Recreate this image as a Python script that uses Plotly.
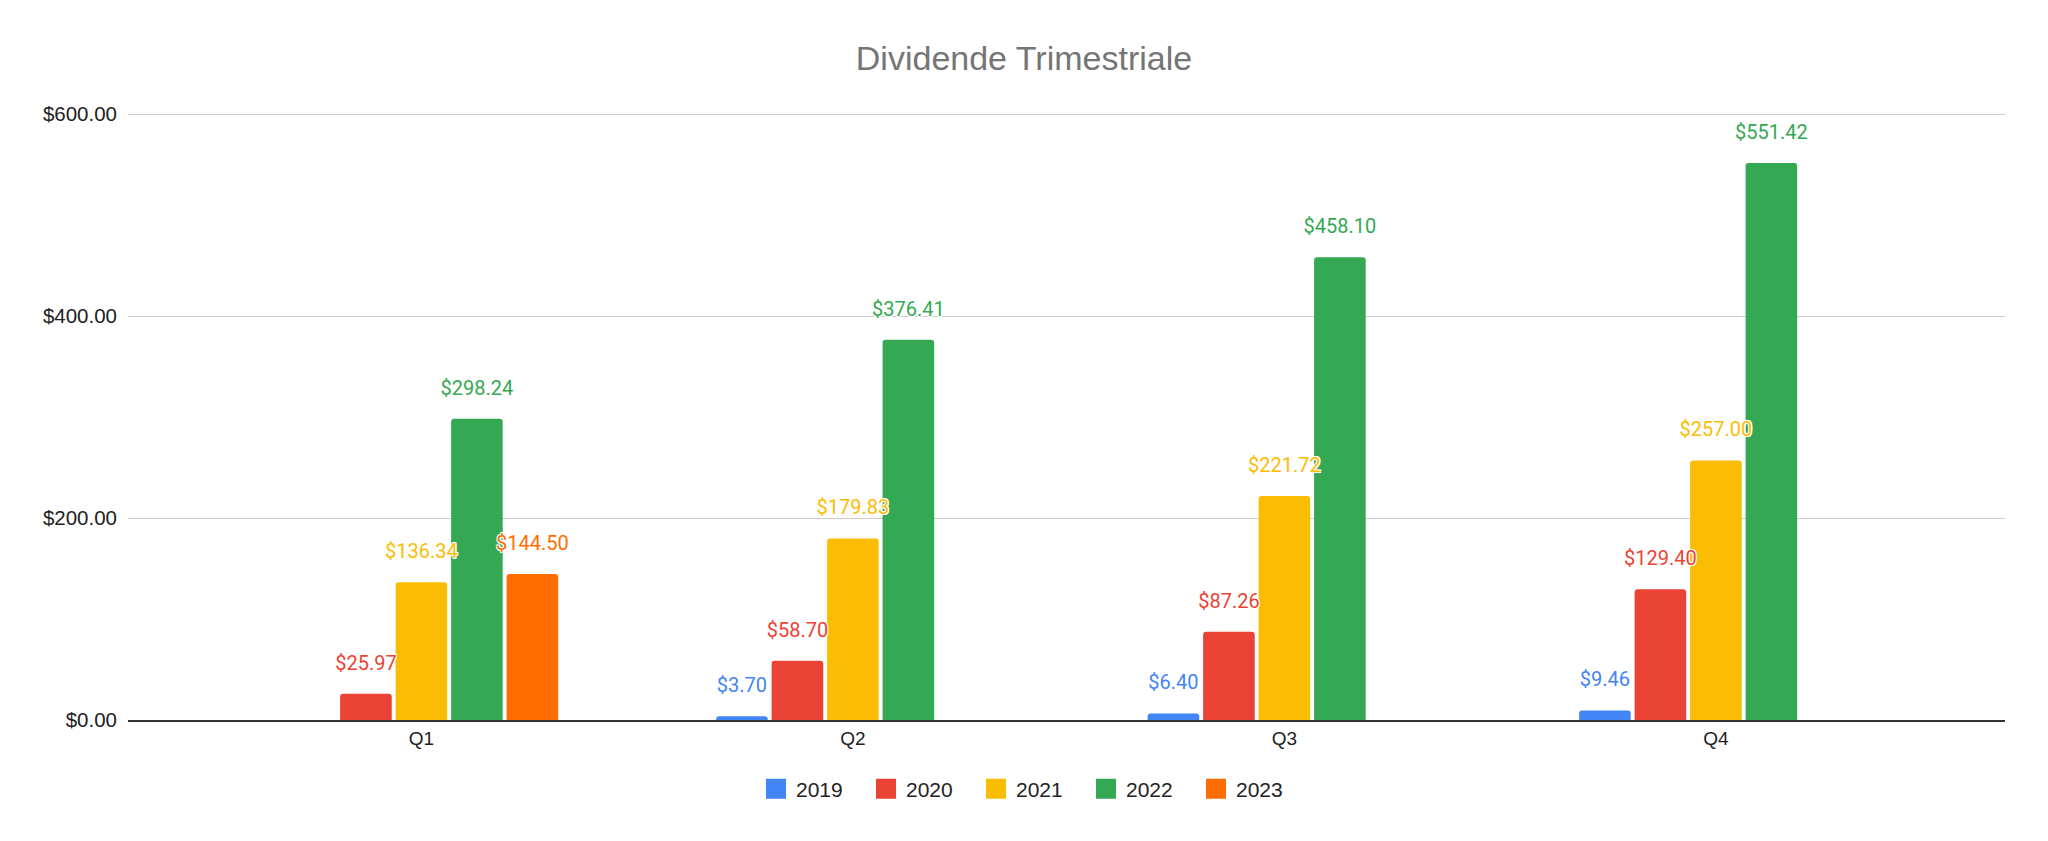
import plotly.graph_objects as go

# dati
quarters = ['Q1', 'Q2', 'Q3', 'Q4']
years = ['2019', '2020', '2021', '2022', '2023']
div_2019 = [None, 3.70, 6.40, 9.46]
div_2020 = [25.97, 58.70, 87.26, 129.40]
div_2021 = [136.34, 179.83, 221.72, 257.00]
div_2022 = [298.24, 376.41, 458.10, 551.42]
div_2023 = [144.50, None, None, None]
y_ticks = [0, 200, 400, 600]

series = [div_2019, div_2020, div_2021, div_2022, div_2023]
colors = ['#4285F4', '#EA4335', '#FBBC04', '#34A853', '#FF6D01']

# il body della pagina ha 8px di margine: la figura è più piccola di 8px
W, H = 2040, 833

OUTLINE = '-1px -1px 0 #fff, 1px -1px 0 #fff, -1px 1px 0 #fff, 1px 1px 0 #fff, 0 0 2px #fff'

fig = go.Figure()

# barre
for year, values, color in zip(years, series, colors):
    fig.add_trace(go.Bar(
        x=quarters,
        y=values,
        name=year,
        offsetgroup=year,
        marker=dict(color=color, line=dict(width=0)),
        showlegend=False,
        hoverinfo='skip',
    ))

# etichette sopra le barre (scatter, così stanno sopra tutte le barre)
for year, values, color in zip(years, series, colors):
    fig.add_trace(go.Scatter(
        x=quarters,
        y=values,
        name=year,
        offsetgroup=year,
        mode='markers+text',
        marker=dict(size=29, opacity=0),
        texttemplate='$%{y:,.2f}',
        textposition='top center',
        textfont=dict(family='Roboto', size=20, color=color, shadow=OUTLINE),
        cliponaxis=False,
        showlegend=False,
    ))

# legenda con quadrati più grandi
for year, color in zip(years, colors):
    fig.add_trace(go.Scatter(
        x=[None], y=[None],
        mode='markers',
        name=year,
        offsetgroup=year,
        marker=dict(symbol='square', size=16, color=color, line=dict(color=color, width=4)),
        showlegend=True,
    ))

fig.update_layout(
    width=W,
    height=H,
    barmode='group',
    scattermode='group',
    bargap=0.357,
    scattergap=0.357,
    bargroupgap=0.07,
    barcornerradius=3,
    plot_bgcolor='white',
    paper_bgcolor='white',
    margin=dict(l=120, r=43, t=104, b=121),
    title=dict(
        text='Dividende Trimestriale',
        font=dict(family='Liberation Sans, Arial', size=34, color='#757575'),
        x=1016 / W, xanchor='center', xref='container',
        y=1 - 50 / H, yanchor='middle', yref='container',
    ),
    legend=dict(
        orientation='h',
        x=1023 / W, xanchor='center', xref='container',
        y=1 - 781 / H, yanchor='middle', yref='container',
        font=dict(family='Liberation Sans, Arial', size=21, color='#222222'),
        entrywidth=65,
        itemclick=False,
    ),
    font=dict(family='Liberation Sans, Arial', color='#222222'),
)

fig.update_xaxes(
    type='category',
    range=[-0.68, 3.67],
    showgrid=False,
    showline=True,
    linecolor='#333333',
    linewidth=1.5,
    ticks='',
    ticklabelstandoff=0,
    tickfont=dict(family='Liberation Sans, Arial', size=19, color='#222222'),
)

fig.update_yaxes(
    range=[0, 602],
    tickvals=y_ticks,
    tickformat='$,.2f',
    showgrid=True,
    gridcolor='#cccccc',
    gridwidth=1,
    zeroline=False,
    showline=False,
    ticks='',
    ticklabelstandoff=10,
    tickfont=dict(family='Liberation Sans, Arial', size=20.5, color='#222222'),
)

fig.write_html('out.html')
